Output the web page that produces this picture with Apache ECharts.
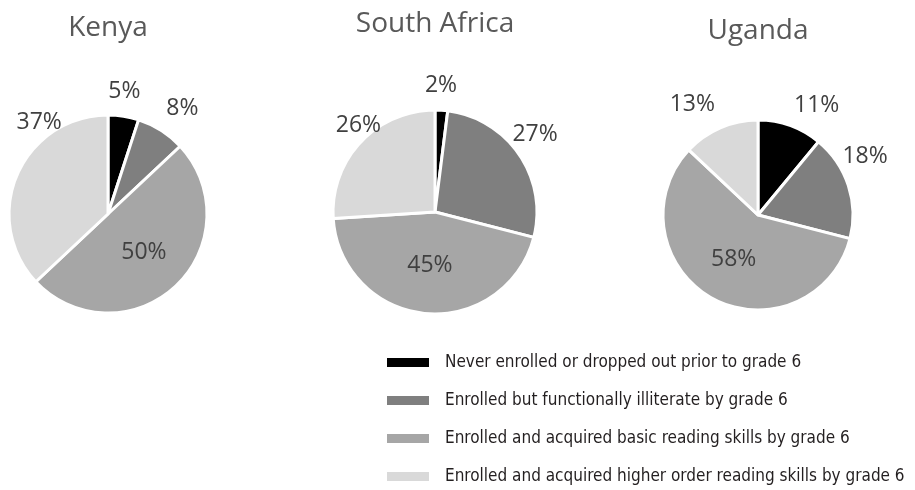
<!DOCTYPE html>
<html>
<head>
<meta charset="utf-8">
<script src="https://cdn.jsdelivr.net/npm/echarts@6/dist/echarts.min.js"></script>
<style>
  html, body { margin: 0; padding: 0; background: #fff; }
  #chart { width: 915px; height: 490px; }
</style>
</head>
<body>
<div id="chart"></div>
<script>
// categories (legend order)
var categories = [
  'Never enrolled or dropped out prior to grade 6',
  'Enrolled but functionally illiterate by grade 6',
  'Enrolled and acquired basic reading skills by grade 6',
  'Enrolled and acquired higher order reading skills by grade 6'
]
var countries = ['Kenya', 'South Africa', 'Uganda']
// percentages per country, same order as categories
var kenyaValues = [5, 8, 50, 37]
var southAfricaValues = [2, 27, 45, 26]
var ugandaValues = [11, 18, 58, 13]

var sliceColors = ['#000000', '#7f7f7f', '#a6a6a6', '#d9d9d9']

// pie placement: [center x, center y, radius, title top]
var pieLayout = [
  [108, 214, 99, 14],
  [435, 212, 102, 10],
  [758, 215, 95, 17]
]
// small nudges for the outside labels (excel "best fit" puts them a bit off the mid angle)
var labelNudge = [
  [[-3, 0], [8, -1], null, [45, -42]],
  [[-2, 0], [-5, -6], null, [16, 0]],
  [[18, 3], [-7, -21], null, [-18, 0]]
]

var allValues = [kenyaValues, southAfricaValues, ugandaValues]

var chart = echarts.init(document.getElementById('chart'))

var series = allValues.map(function (vals, s) {
  var p = pieLayout[s]
  return {
    type: 'pie',
    name: countries[s],
    center: [p[0], p[1]],
    radius: [0, p[2]],
    startAngle: 90,
    clockwise: true,
    avoidLabelOverlap: false,
    silent: true,
    itemStyle: { borderColor: '#fff', borderWidth: 3 },
    label: {
      show: true,
      position: 'outside',
      formatter: '{c}%',
      color: '#404040',
      fontSize: 23,
      fontFamily: 'Open Sans',
      distanceToLabelLine: 0
    },
    labelLine: { show: false, length: 25, length2: 0 },
    labelLayout: function (params) {
      var n = labelNudge[s][params.dataIndex]
      if (!n) return {}
      return { align: 'center', verticalAlign: 'middle', dx: n[0], dy: n[1] }
    },
    data: vals.map(function (v, i) {
      var item = { name: categories[i], value: v }
      // the big "basic reading" slice keeps its label inside
      if (i === 2) item.label = { position: 'inside' }
      return item
    })
  }
})

chart.setOption({
  backgroundColor: '#fff',
  animation: false,
  color: sliceColors,
  title: countries.map(function (c, s) {
    return {
      text: c,
      left: pieLayout[s][0],
      top: pieLayout[s][3],
      textAlign: 'center',
      padding: 0,
      textStyle: {
        color: '#595959',
        fontSize: 28,
        fontWeight: 'normal',
        fontFamily: 'Open Sans'
      }
    }
  }),
  legend: {
    orient: 'vertical',
    left: 385,
    top: 354,
    padding: 0,
    icon: 'rect',
    itemWidth: 44,
    itemHeight: 11,
    itemGap: 21,
    selectedMode: false,
    textStyle: {
      color: '#231f20',
      fontSize: 17,
      fontFamily: '"Liberation Sans Narrow", "Arial Narrow", "DejaVu Sans Condensed", "Liberation Sans"',
      padding: [0, 0, 0, 10]
    },
    data: categories
  },
  series: series
})
</script>
</body>
</html>
